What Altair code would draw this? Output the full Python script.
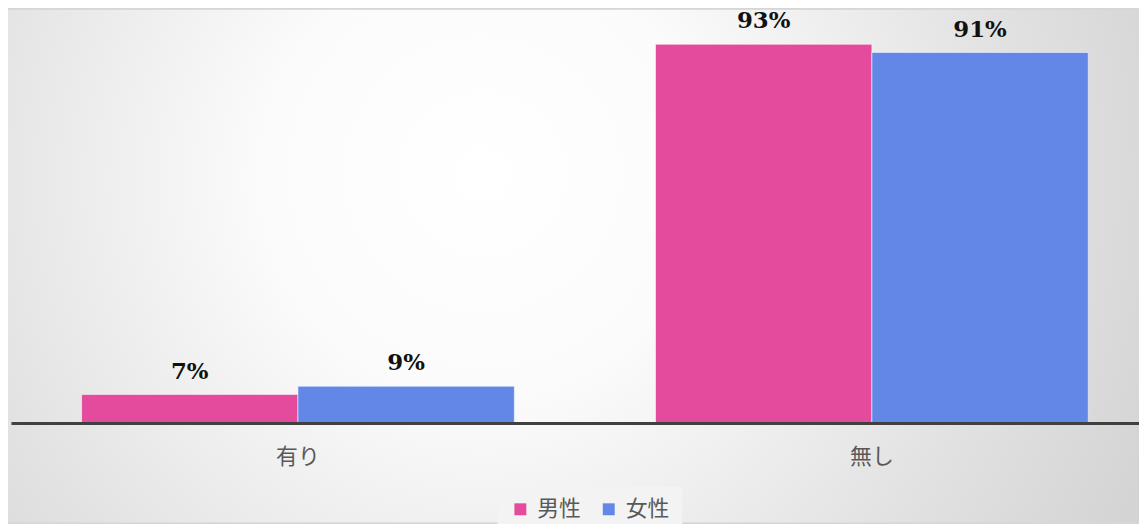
import altair as alt
import pandas as pd

categories = ["有り", "無し"]
sexes = ["男性", "女性"]
values_male = [7, 93]
values_female = [9, 91]
colors = ["#E54B9C", "#6287E7"]

rows = []
for i, c in enumerate(categories):
    rows.append({"cat": c, "sex": sexes[0], "v": values_male[i], "label": f"{values_male[i]}%"})
    rows.append({"cat": c, "sex": sexes[1], "v": values_female[i], "label": f"{values_female[i]}%"})
df = pd.DataFrame(rows)

W, H = 1136, 410

bg = alt.Chart(pd.DataFrame({"a": [0]})).mark_rect(
    clip=False,
    fill=alt.RadialGradient(
        gradient="radial",
        x1=0.42, y1=0.42, r1=0.0,
        x2=0.42, y2=0.42, r2=0.78,
        stops=[
            alt.GradientStop(color="#ffffff", offset=0.0),
            alt.GradientStop(color="#fbfbfb", offset=0.25),
            alt.GradientStop(color="#e2e2e2", offset=0.6),
            alt.GradientStop(color="#c9c9c9", offset=1.0),
        ],
    ),
).encode(
    x=alt.value(-3), x2=alt.value(W), y=alt.value(-6), y2=alt.value(510)
)

xenc = alt.X("cat:N", sort=categories, title=None,
             scale=alt.Scale(range=[0, 1156], paddingInner=0.246, paddingOuter=0.123),
             axis=alt.Axis(labelAngle=0, ticks=False, domainColor="#404040", domainWidth=3,
                           labelFont="Noto Sans CJK JP", labelFontSize=22, labelColor="#595959",
                           labelPadding=24, grid=False, zindex=2))
yenc = alt.Y("v:Q", scale=alt.Scale(domain=[0, 100]), axis=None)
xoff = alt.XOffset("sex:N", sort=sexes)

base = alt.Chart(df)

bars = base.mark_bar(stroke="#ffffff", strokeOpacity=0.55, strokeWidth=1).encode(
    x=xenc, y=yenc, xOffset=xoff,
    color=alt.Color("sex:N", sort=sexes, scale=alt.Scale(domain=sexes, range=colors),
                    legend=alt.Legend(title=None, orient="none", legendX=490, legendY=474,
                                      direction="horizontal", symbolType="square",
                                      symbolSize=144, symbolStrokeWidth=0,
                                      labelFont="Noto Sans CJK JP", labelFontSize=22,
                                      labelColor="#595959", labelOffset=6, columnPadding=16,
                                      fillColor="#f3f3f3", padding=12, zindex=2))
)

labels = base.mark_text(font="DejaVu Serif", fontWeight="bold", fontSize=23,
                        color="#111111", baseline="alphabetic", dy=-16).encode(
    x=xenc, y=yenc, xOffset=xoff, text="label:N"
)

chart = alt.layer(bg, bars, labels).properties(
    width=W, height=H,
    autosize=alt.AutoSizeParams(type="none"),
    padding={"left": 3, "top": 6, "right": 0, "bottom": 100},
).configure_view(stroke=None).configure(background="#d6d6d6")

chart.save("out.html", embed_options={"renderer": "svg", "actions": False})
